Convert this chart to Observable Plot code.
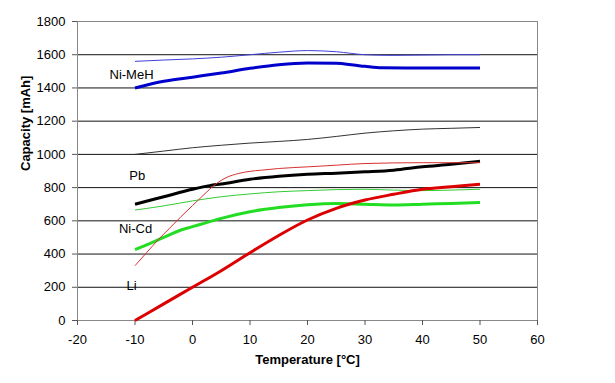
<!DOCTYPE html>
<html>
<head>
<meta charset="utf-8">
<script src="https://cdn.jsdelivr.net/npm/d3@7"></script>
<script src="https://cdn.jsdelivr.net/npm/@observablehq/plot@0.6"></script>
<style>
  html, body { margin: 0; padding: 0; background: #fff; }
  #chart { width: 615px; height: 383px; }
</style>
</head>
<body>
<div id="chart"></div>
<script>
// Temperatures (°C) and capacities (mAh)
const tempsNiMeHThin = [-10, -5, 0, 5, 10, 15, 20, 25, 30, 35, 40, 45, 50];
const niMeHThin      = [1560, 1568, 1575, 1585, 1600, 1615, 1625, 1618, 1600, 1596, 1598, 1600, 1600];
const tempsNiMeHThick = [-10, -5, 0, 5, 10, 15, 20, 25, 28, 30, 33, 40, 45, 50];
const niMeHThick      = [1400, 1440, 1465, 1490, 1518, 1540, 1550, 1548, 1538, 1530, 1521, 1520, 1520, 1520];

const tempsPbThin = [-10, -5, 0, 5, 10, 15, 20, 25, 30, 35, 40, 45, 50];
const pbThin      = [1000, 1020, 1040, 1055, 1068, 1078, 1090, 1108, 1128, 1142, 1152, 1157, 1162];
const tempsPbThick = [-10, -5, 0, 3, 5, 10, 15, 20, 25, 30, 35, 40, 45, 50];
const pbThick      = [700, 745, 790, 812, 822, 850, 868, 880, 887, 895, 905, 925, 940, 958];

const tempsNiCdThin = [-10, -5, 0, 5, 10, 15, 20, 25, 30, 35, 40, 45, 50];
const niCdThin      = [665, 690, 720, 745, 762, 775, 782, 788, 790, 785, 782, 785, 790];
const tempsNiCdThick = [-10, -8, -6, -4, -2, 0, 2, 5, 10, 15, 20, 25, 30, 35, 40, 45, 50];
const niCdThick      = [427, 455, 485, 515, 545, 565, 585, 615, 655, 680, 697, 705, 700, 695, 700, 705, 710];

const tempsLiThin = [-10, -8, -6, -4, -2, 0, 2, 4, 6, 8, 10, 12, 15, 20, 25, 30, 40, 50];
const liThin      = [330, 408, 485, 555, 625, 692, 758, 820, 862, 885, 898, 905, 915, 925, 935, 945, 950, 950];
const tempsLiThick = [-10, -5, 0, 5, 10, 15, 20, 25, 30, 35, 40, 45, 50];
const liThick      = [0, 100, 200, 300, 408, 512, 605, 675, 725, 760, 790, 805, 820];

const seriesNames  = ["Ni-MeH thin", "Ni-MeH", "Pb thin", "Pb", "Ni-Cd thin", "Ni-Cd", "Li thin", "Li"];
const seriesColors = ["#4040d8", "#0000cc", "#333333", "#000000", "#33cc33", "#22dd22", "#d83030", "#dd0000"];
const seriesWidths = [1, 3, 1, 3, 1, 3, 1, 3];

const labelNames = ["Ni-MeH", "Pb", "Ni-Cd", "Li"];
const labelTemps = [-10.6, -9.6, -9.9, -10.6];
const labelCaps  = [1481, 873, 554, 211];

const xTicks = [-20, -10, 0, 10, 20, 30, 40, 50, 60];
const yTicks = [0, 200, 400, 600, 800, 1000, 1200, 1400, 1600, 1800];

const seriesData = [
  [tempsNiMeHThin, niMeHThin], [tempsNiMeHThick, niMeHThick],
  [tempsPbThin, pbThin], [tempsPbThick, pbThick],
  [tempsNiCdThin, niCdThin], [tempsNiCdThick, niCdThick],
  [tempsLiThin, liThin], [tempsLiThick, liThick]
];

const lineMarks = seriesData.map(([t, v], i) =>
  Plot.line(t.map((x, j) => ({x, y: v[j]})), {
    x: "x", y: "y", stroke: seriesColors[i], strokeWidth: seriesWidths[i],
    curve: "monotone-x", strokeLinejoin: "round", strokeLinecap: "butt"
  })
);

const labels = labelNames.map((n, i) => ({name: n, x: labelTemps[i], y: labelCaps[i]}));
const fmt = d => String(d);

const chart = Plot.plot({
  width: 615,
  height: 383,
  marginLeft: 77,
  marginRight: 78,
  marginTop: 21,
  marginBottom: 63,
  style: {fontFamily: "Arial, 'Liberation Sans', sans-serif", fontSize: "13px", color: "#000", background: "#fff"},
  x: {domain: [-20, 60], ticks: xTicks},
  y: {domain: [0, 1800], ticks: yTicks},
  marks: [
    Plot.ruleY(yTicks.filter(d => d > 0 && d < 1800), {stroke: "#111", strokeWidth: 1}),
    Plot.ruleY([1800], {stroke: "#888", strokeWidth: 1}),
    Plot.ruleY([0], {stroke: "#888", strokeWidth: 1}),
    Plot.ruleX([-20], {stroke: "#888", strokeWidth: 1}),
    Plot.ruleX([60], {stroke: "#888", strokeWidth: 1}),
    Plot.axisX({ticks: xTicks, tickFormat: fmt, tickSize: 5, tickPadding: 9, label: null, fontSize: 13, stroke: "#555"}),
    Plot.axisY({ticks: yTicks, tickFormat: fmt, tickSize: 5, tickPadding: 7, label: null, fontSize: 13, stroke: "#555"}),
    ...lineMarks,
    Plot.text(labels, {x: "x", y: "y", text: "name", fontSize: 13, fill: "#000"}),
    Plot.text(["Temperature [°C]"], {frameAnchor: "bottom", dy: 43, fontSize: 13, fontWeight: "bold", fill: "#000"}),
    Plot.text(["Capacity [mAh]"], {frameAnchor: "left", dx: -52, rotate: -90, fontSize: 13, fontWeight: "bold", fill: "#000"})
  ]
});
document.getElementById("chart").appendChild(chart);
</script>
</body>
</html>
